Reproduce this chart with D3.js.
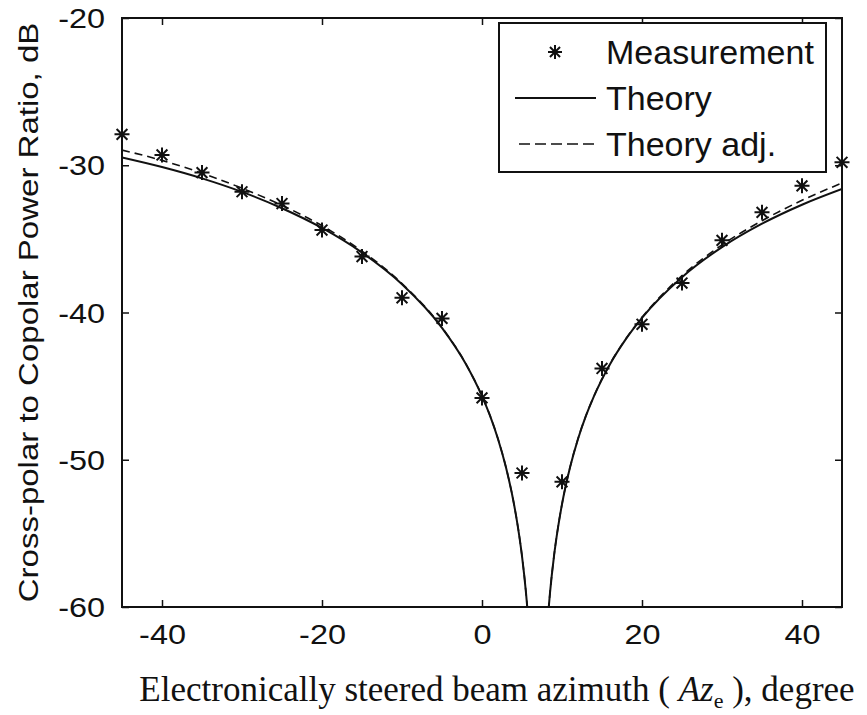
<!DOCTYPE html>
<html>
<head>
<meta charset="utf-8">
<script src="https://cdn.jsdelivr.net/npm/d3@7"></script>
<style>
  html, body { margin: 0; padding: 0; background: #fff; }
  svg { display: block; }
</style>
</head>
<body>
<svg id="chart" width="867" height="715"></svg>
<script>
// Measured cross-polar ratio at each steering angle
const measAz = [-45, -40, -35, -30, -25, -20, -15, -10, -5, 0, 5, 10, 15, 20, 25, 30, 35, 40, 45];
const measDb = [-27.9, -29.3, -30.5, -31.8, -32.6, -34.4, -36.2, -39.0, -40.4, -45.8, -50.9, -51.5, -43.8, -40.8, -38.0, -35.1, -33.2, -31.4, -29.8];

// Theory curve (null splits it into two branches; null marks the gap)
const theoryAz = [-45, -40, -35, -30, -25, -20, -15, -10, -5, -2, 0, 1, 2, 3, 4, 4.5, 5, 5.5, 5.7, 7,
                  8.3, 8.5, 9, 9.5, 10, 11, 12, 13, 14, 16, 18, 20, 25, 30, 35, 40, 45];
const theoryDb = [-29.47, -30.12, -30.89, -31.81, -32.92, -34.26, -35.93, -38.08, -41.04, -43.51, -45.68, -47.01, -48.59, -50.53, -53.02, -54.61, -56.54, -59.04, -60.28, null,
                  -60.28, -59.04, -56.54, -54.61, -53.02, -50.53, -48.59, -47.01, -45.68, -43.51, -41.79, -40.36, -37.60, -35.56, -33.97, -32.68, -31.61];
const theoryAdjDb = [-28.97, -29.67, -30.54, -31.56, -32.72, -34.11, -35.83, -38.03, -41.02, -43.50, -45.67, -47.00, -48.58, -50.52, -53.01, -54.60, -56.53, -59.03, -60.27, null,
                  -60.27, -59.03, -56.53, -54.60, -53.01, -50.52, -48.58, -47.00, -45.67, -43.49, -41.77, -40.33, -37.50, -35.41, -33.77, -32.38, -31.21];

const xTicks = [-40, -20, 0, 20, 40];
const yTicks = [-60, -50, -40, -30, -20];
const legendLabels = ["Measurement", "Theory", "Theory adj."];

const svg = d3.select("#chart");
const m = { left: 122, top: 18, right: 842, bottom: 607 };

const x = d3.scaleLinear().domain([-45, 45]).range([m.left, m.right]);
const y = d3.scaleLinear().domain([-60, -20]).range([m.bottom, m.top]);

const sansFont = "'Liberation Sans', Arial, sans-serif";
const ink = "#111";
const plainNum = d => String(d); // hyphen-minus, as in the printed figure

// stretch helper for the wide axis lettering
function widen(sel, k) {
  sel.each(function () {
    const w = this.getComputedTextLength();
    d3.select(this).attr("textLength", w * k).attr("lengthAdjust", "spacingAndGlyphs");
  });
}

svg.append("defs").append("clipPath").attr("id", "plotClip")
  .append("rect")
  .attr("x", m.left).attr("y", m.top)
  .attr("width", m.right - m.left).attr("height", m.bottom - m.top);

// axes (ticks point inward on all four sides)
const tickLen = 7;
const gx = svg.append("g").attr("transform", `translate(0,${m.bottom})`)
  .call(d3.axisBottom(x).tickValues(xTicks).tickFormat(plainNum).tickSizeInner(-tickLen).tickSizeOuter(0).tickPadding(18));
const gxTop = svg.append("g").attr("transform", `translate(0,${m.top})`)
  .call(d3.axisTop(x).tickValues(xTicks).tickSizeInner(-tickLen).tickSizeOuter(0).tickFormat(""));
const gy = svg.append("g").attr("transform", `translate(${m.left},0)`)
  .call(d3.axisLeft(y).tickValues(yTicks).tickFormat(plainNum).tickSizeInner(-tickLen).tickSizeOuter(0).tickPadding(17));
const gyRight = svg.append("g").attr("transform", `translate(${m.right},0)`)
  .call(d3.axisRight(y).tickValues(yTicks).tickSizeInner(-tickLen).tickSizeOuter(0).tickFormat(""));

[gx, gxTop, gy, gyRight].forEach(g => {
  g.select(".domain").remove();
  g.selectAll(".tick line").attr("stroke", ink).attr("stroke-width", 1.5);
});
gx.selectAll(".tick text").attr("font-family", sansFont).attr("font-size", 27).attr("fill", ink).attr("dy", "0.72em");
gy.selectAll(".tick text").attr("font-family", sansFont).attr("font-size", 27).attr("fill", ink).attr("dy", "0.36em");
gx.selectAll(".tick text").each(function () { widen(d3.select(this), 1.2); });
gy.selectAll(".tick text").each(function () { widen(d3.select(this), 1.2); });

// plot frame
svg.append("rect")
  .attr("x", m.left).attr("y", m.top)
  .attr("width", m.right - m.left).attr("height", m.bottom - m.top)
  .attr("fill", "none").attr("stroke", ink).attr("stroke-width", 2);

// theory curves
const line = d3.line()
  .defined(d => d[1] != null)
  .x(d => x(d[0])).y(d => y(d[1]))
  .curve(d3.curveMonotoneX);

const plot = svg.append("g").attr("clip-path", "url(#plotClip)");
plot.append("path")
  .datum(theoryAz.map((a, i) => [a, theoryDb[i]]))
  .attr("d", line).attr("fill", "none").attr("stroke", ink).attr("stroke-width", 2);
plot.append("path")
  .datum(theoryAz.map((a, i) => [a, theoryAdjDb[i]]))
  .attr("d", line).attr("fill", "none").attr("stroke", ink).attr("stroke-width", 1.6)
  .attr("stroke-dasharray", "8,5");

// asterisk marker: plus + cross
function starPath(r) {
  const d = r * 0.72;
  return `M${-r},0L${r},0M0,${-r}L0,${r}M${-d},${-d}L${d},${d}M${-d},${d}L${d},${-d}`;
}
svg.append("g").selectAll("path.star")
  .data(measAz.map((a, i) => [a, measDb[i]]))
  .join("path")
  .attr("class", "star")
  .attr("transform", d => `translate(${x(d[0])},${y(d[1])})`)
  .attr("d", starPath(7.5))
  .attr("fill", "none").attr("stroke", ink).attr("stroke-width", 2);

// legend
const lg = svg.append("g");
lg.append("rect")
  .attr("x", 499).attr("y", 23).attr("width", 327).attr("height", 149)
  .attr("fill", "#fff").attr("stroke", ink).attr("stroke-width", 2);
const rowsY = [52, 98, 144];
lg.append("path").attr("transform", `translate(555,${rowsY[0]})`)
  .attr("d", starPath(7)).attr("fill", "none").attr("stroke", ink).attr("stroke-width", 2);
lg.append("line").attr("x1", 515).attr("x2", 596).attr("y1", rowsY[1]).attr("y2", rowsY[1])
  .attr("stroke", ink).attr("stroke-width", 2);
lg.append("line").attr("x1", 519).attr("x2", 598).attr("y1", rowsY[2]).attr("y2", rowsY[2])
  .attr("stroke", ink).attr("stroke-width", 1.6).attr("stroke-dasharray", "11,5");
lg.selectAll("text.lab").data(legendLabels).join("text")
  .attr("class", "lab")
  .attr("x", 606).attr("y", (d, i) => rowsY[i])
  .attr("dy", "0.36em")
  .attr("font-family", sansFont).attr("font-size", 34).attr("fill", ink)
  .text(d => d);

// y-axis title
const yt = svg.append("text")
  .attr("transform", `translate(38,${(m.top + m.bottom) / 2}) rotate(-90)`)
  .attr("text-anchor", "middle")
  .attr("font-family", sansFont).attr("font-size", 27.5).attr("fill", ink)
  .text("Cross-polar to Copolar Power Ratio, dB");
widen(yt, 1.2);

// x-axis title (serif, italic symbol with subscript)
const xt = svg.append("text")
  .attr("x", 497).attr("y", 701)
  .attr("text-anchor", "middle")
  .attr("font-family", "'Liberation Serif', 'Times New Roman', serif")
  .attr("font-size", 35).attr("fill", ink);
xt.append("tspan").text("Electronically steered beam azimuth ( ");
xt.append("tspan").attr("font-style", "italic").text("Az");
xt.append("tspan").attr("font-size", 22).attr("dy", 7).text("e");
xt.append("tspan").attr("dy", -7).text(" ), degree");
</script>
</body>
</html>
